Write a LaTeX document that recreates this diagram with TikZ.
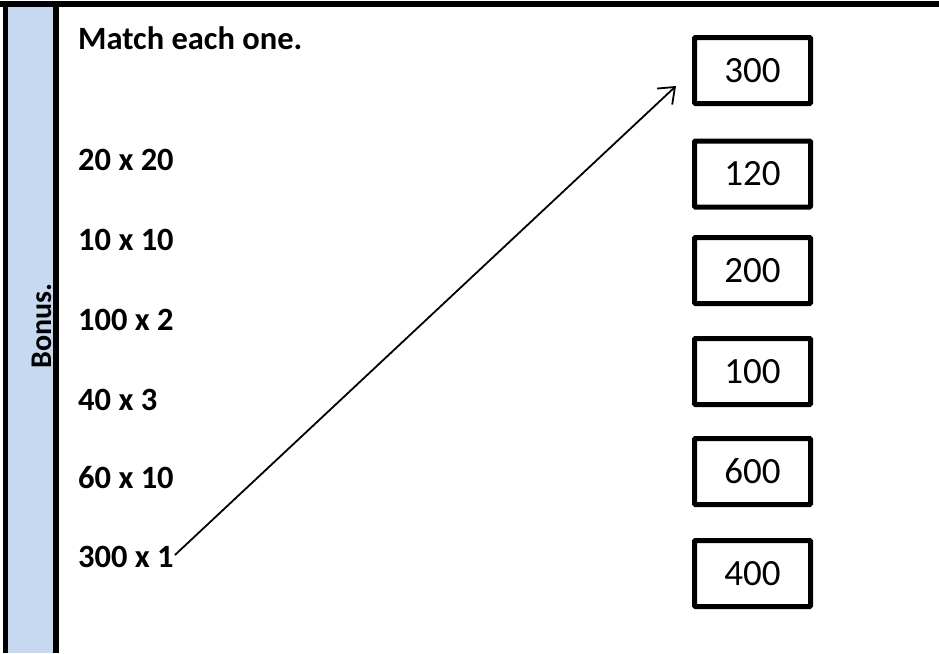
\documentclass[tikz,border=0pt]{standalone}
\usepackage{fontspec}
\setmainfont{Carlito}
\usetikzlibrary{arrows.meta}
\definecolor{bonusblue}{HTML}{C6D9F1}
\begin{document}
\begin{tikzpicture}[x=1pt,y=-1pt,
  lbl/.style={font=\fontsize{32.5}{36}\selectfont\bfseries, anchor=west, inner sep=0pt},
  ansbox/.style={draw, line width=5pt, rounded corners=1pt, minimum width=116pt, minimum height=66pt, inner sep=0pt, font=\fontsize{37}{40}\selectfont},
  arr/.style={line width=1.8pt, -{Straight Barb[length=14pt,width=22pt,line width=1.8pt]}}]
\useasboundingbox (0,0) rectangle (939,653);
\fill[white] (0,0) rectangle (939,653);
% left band
\fill[bonusblue] (8,4) rectangle (53,653);
\draw[line width=5pt] (5.5,4) -- (5.5,653);
\draw[line width=6pt] (56,4) -- (56,653);
\draw[line width=6pt] (0,4) -- (939,4);
\node[font=\fontsize{30}{33}\selectfont\bfseries, rotate=90, anchor=base, inner sep=0pt] (bonus) at (51,326) {Bonus.};
% labels
\node[lbl] (title) at (78,38) {Match each one.};
\node[lbl] (l1) at (78,160) {20 x 20};
\node[lbl] (l2) at (78,240) {10 x 10};
\node[lbl] (l3) at (78,320) {100 x 2};
\node[lbl] (l4) at (78,400) {40 x 3};
\node[lbl] (l5) at (78,478) {60 x 10};
\node[lbl] (l6) at (78,557) {300 x 1};
% answer boxes
\node[ansbox] (b1) at (752.5,70.5) {300};
\node[ansbox] (b2) at (752.5,174) {120};
\node[ansbox] (b3) at (752.5,270.5) {200};
\node[ansbox] (b4) at (752.5,371.5) {100};
\node[ansbox] (b5) at (752.5,471.5) {600};
\node[ansbox] (b6) at (752.5,573.5) {400};
% arrow
\coordinate (start) at ([xshift=1pt,yshift=2pt]l6.east);
\coordinate (tip) at ([xshift=-16pt,yshift=20pt]b1.south west);
\draw[arr] (start) -- (tip);
\end{tikzpicture}
\end{document}
